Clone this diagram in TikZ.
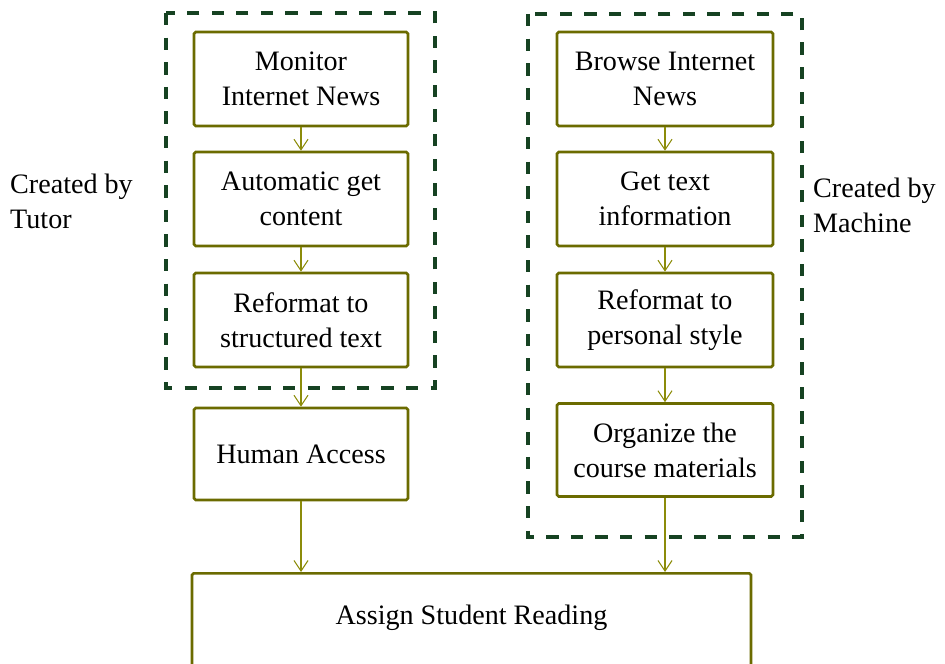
\documentclass[tikz,border=0pt]{standalone}
\usepackage{fontspec}
\setmainfont{Liberation Serif}
\usetikzlibrary{arrows.meta}
\definecolor{boxolive}{RGB}{107,107,0}
\definecolor{arrowolive}{RGB}{140,140,10}
\definecolor{framegreen}{RGB}{22,66,34}
\begin{document}
\begin{tikzpicture}[
    every node/.style={font=\fontsize{16}{20}\selectfont},
    stepbox/.style={draw=boxolive, line width=1.5pt, rounded corners=1pt, fill=white,
                    align=center, inner sep=0pt, minimum height=1.88cm},
    flow/.style={draw=arrowolive, line width=0.6pt, -{Straight Barb[length=6pt,width=8pt]}},
    groupframe/.style={draw=framegreen, line width=1.9pt, dash pattern=on 7pt off 7pt}
  ]
  \useasboundingbox (0,0) rectangle (18.9,-13.28);

  % Tutor side
  \node[stepbox, minimum width=4.28cm] (monitor) at (6.02,-1.58) {Monitor\\Internet News};
  \node[stepbox, minimum width=4.28cm] (autoget) at (6.02,-3.98) {Automatic get\\content};
  \node[stepbox, minimum width=4.28cm] (reftutor) at (6.02,-6.40) {Reformat to\\structured text};
  \node[stepbox, minimum width=4.28cm, minimum height=1.84cm] (human) at (6.02,-9.08) {Human Access};
  \draw[groupframe] (3.32,-0.26) rectangle (8.70,-7.76);
  \node[align=left, anchor=west] (tutor) at (0.08,-4.02) {Created by\\Tutor};

  % Machine side
  \node[stepbox, minimum width=4.32cm] (browse) at (13.30,-1.58) {Browse Internet\\News};
  \node[stepbox, minimum width=4.32cm] (gettext) at (13.30,-3.98) {Get text\\information};
  \node[stepbox, minimum width=4.32cm] (refmachine) at (13.30,-6.40) {Reformat to\\personal style};
  \node[stepbox, minimum width=4.32cm, minimum height=1.86cm] (organize) at (13.30,-9.00) {Organize the\\course materials};
  \draw[groupframe] (10.56,-0.28) rectangle (16.04,-10.74);
  \node[align=left, anchor=west] (machine) at (16.14,-4.10) {Created by\\Machine};

  % Common step
  \node[stepbox, anchor=north, minimum width=11.18cm, text height=1.02cm, text depth=1.6cm]
    (assign) at (9.43,-11.44) {Assign Student Reading};

  % Connections
  \draw[flow] (monitor) -- (autoget);
  \draw[flow] (autoget) -- (reftutor);
  \draw[flow] (reftutor) -- (human);
  \draw[flow] (human.south) -- (human.south |- assign.north);
  \draw[flow] (browse) -- (gettext);
  \draw[flow] (gettext) -- (refmachine);
  \draw[flow] (refmachine) -- (organize);
  \draw[flow] (organize.south) -- (organize.south |- assign.north);
\end{tikzpicture}
\end{document}
